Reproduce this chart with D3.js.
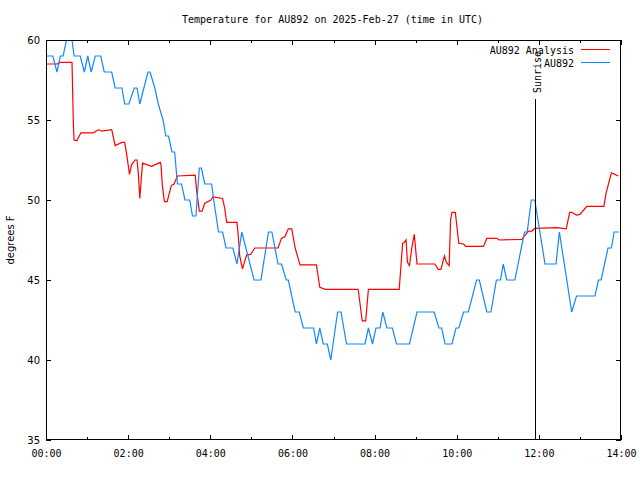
<!DOCTYPE html>
<html><head><meta charset="utf-8">
<script src="https://cdn.jsdelivr.net/npm/d3@7"></script>
<style>body{margin:0;background:#fff}</style>
</head><body>
<svg id="c" width="640" height="480"></svg>
<script>
const chartTitle = "Temperature for AU892 on 2025-Feb-27 (time in UTC)";
const yAxisLabel = "degrees F";
const seriesNames = ["AU892 Analysis", "AU892"];
const seriesColors = ["#ff0000", "#1188ff"];

const analysisTimes = ["00:00","00:16","00:21","00:38","00:40","00:41","00:45","00:51","01:09","01:17","01:21","01:36","01:38","01:41","01:51","01:55","01:58","02:02","02:05","02:10","02:13","02:15","02:17","02:21","02:34","02:47","02:48","02:50","02:53","02:57","03:03","03:07","03:12","03:38","03:40","03:44","03:48","03:52","04:01","04:04","04:18","04:21","04:24","04:39","04:41","04:43","04:47","04:53","04:59","05:05","05:39","05:44","05:49","05:54","05:59","06:04","06:11","06:35","06:40","06:48","07:36","07:42","07:47","07:51","08:36","08:41","08:43","08:46","08:48","08:51","08:54","08:58","09:02","09:28","09:33","09:37","09:42","09:45","09:49","09:51","09:53","09:58","10:03","10:10","10:13","10:39","10:44","10:59","11:02","11:35","11:40","11:45","11:50","11:54","12:26","12:40","12:45","12:48","12:55","13:00","13:10","13:35","13:38","13:46","13:51","13:56"];
const analysisValues = [58.5,58.5,58.6,58.6,54.7,53.75,53.7,54.2,54.2,54.4,54.3,54.4,54.0,53.4,53.6,53.6,52.8,51.6,52.2,52.5,52.5,51.6,50.1,52.3,52.1,52.35,52.2,50.9,49.9,49.9,50.9,51.0,51.5,51.56,50.6,49.3,49.3,49.8,50.0,50.2,50.1,49.5,48.6,48.6,47.7,46.5,45.7,46.56,46.6,47.0,47.0,47.6,47.7,48.2,48.2,47.0,45.94,45.94,44.54,44.42,44.42,42.44,42.44,44.42,44.42,47.3,47.33,47.5,46.1,45.9,46.9,47.85,46.0,46.0,45.67,45.67,46.5,46.1,45.9,48.75,49.23,49.23,47.3,47.25,47.1,47.1,47.6,47.6,47.5,47.54,47.8,48.06,48.06,48.23,48.27,48.2,49.23,49.23,49.06,49.1,49.6,49.6,50.4,51.7,51.6,51.5];

const obsTimes = ["00:00","00:10","00:16","00:21","00:25","00:30","00:38","00:41","00:50","00:56","01:01","01:06","01:12","01:20","01:25","01:36","01:41","01:51","01:55","02:01","02:09","02:13","02:17","02:29","02:32","02:39","02:44","02:51","02:55","02:59","03:04","03:08","03:10","03:12","03:18","03:23","03:30","03:34","03:39","03:44","03:47","03:52","04:02","04:05","04:12","04:18","04:23","04:33","04:39","04:46","05:04","05:14","05:25","05:30","05:39","05:44","05:51","05:54","06:04","06:10","06:16","06:31","06:35","06:40","06:45","06:51","06:56","07:06","07:11","07:19","07:46","07:51","07:57","08:02","08:08","08:12","08:18","08:26","08:32","08:51","09:02","09:27","09:34","09:38","09:43","09:53","09:59","10:03","10:10","10:17","10:29","10:33","10:44","10:50","10:58","11:04","11:08","11:13","11:25","11:39","11:43","11:49","11:54","12:09","12:25","12:30","12:48","12:55","13:22","13:27","13:31","13:41","13:46","13:50","13:57"];
const obsValues = [59,59,58,59,59,60,60,59,59,58,59,58,59,59,58,58,57,57,56,56,57,57,56,58,58,57,56,55,54,54,53,53,52,51,51,50,50,49,49,52,52,51,51,50,48,48,47,47,46,48,45,45,48,48,46,46,45,45,43,43,42,42,41,42,41,41,40,43,43,41,41,42,41,42,42,43,42,42,41,41,43,43,42,42,41,41,42,42,43,43,45,45,43,43,45,45,46,45,45,48,48,50,50,46,46,48,43,44,44,45,45,47,47,48,48];

const xTickLabels = ["00:00","02:00","04:00","06:00","08:00","10:00","12:00","14:00"];
const xMinorTickLabels = ["01:00","03:00","05:00","07:00","09:00","11:00","13:00"];
const yTickValues = [35,40,45,50,55,60];
const sunriseTime = "11:54";
const sunriseLabel = "Sunrise";

const toMin = s => { const [h,m] = s.split(":").map(Number); return h*60+m; };

const L = 46, R = 621, T = 40, B = 440;
const x = d3.scaleLinear().domain([toMin(xTickLabels[0]), toMin(xTickLabels[xTickLabels.length-1])]).range([L, R]);
const y = d3.scaleLinear().domain([yTickValues[0], yTickValues[yTickValues.length-1]]).range([B, T]);

const svg = d3.select("#c");
const mono = "'DejaVu Sans Mono', monospace";
const sans = "'DejaVu Sans', sans-serif";

svg.append("rect").attr("width",640).attr("height",480).attr("fill","#fff");

svg.append("defs").append("clipPath").attr("id","clip")
  .append("rect").attr("x",L).attr("y",T).attr("width",R-L).attr("height",B-T);

// title
svg.append("text").attr("x",(L+R)/2-1).attr("y",23).attr("text-anchor","middle")
  .attr("font-family",mono).attr("font-size",10).text(chartTitle);

// y axis label
svg.append("text").attr("transform","translate(14,240) rotate(-90)").attr("text-anchor","middle")
  .attr("font-family",sans).attr("font-size",10).text(yAxisLabel);

// axes
const xMajor = xTickLabels.map(toMin), xMinor = xMinorTickLabels.map(toMin);
const fmt = m => d3.format("02d")(Math.floor(m/60)) + ":" + d3.format("02d")(m%60);

const gb = svg.append("g").attr("transform",`translate(0,${B})`)
  .call(d3.axisBottom(x).tickValues(xMajor).tickFormat(fmt).tickSizeInner(-5).tickSizeOuter(0).tickPadding(10));
const gbm = svg.append("g").attr("transform",`translate(0,${B})`)
  .call(d3.axisBottom(x).tickValues(xMinor).tickFormat("").tickSizeInner(-3).tickSizeOuter(0));
const gt = svg.append("g").attr("transform",`translate(0,${T})`)
  .call(d3.axisTop(x).tickValues(xMajor).tickFormat("").tickSizeInner(-5).tickSizeOuter(0));
const gtm = svg.append("g").attr("transform",`translate(0,${T})`)
  .call(d3.axisTop(x).tickValues(xMinor).tickFormat("").tickSizeInner(-3).tickSizeOuter(0));
const gl = svg.append("g").attr("transform",`translate(${L},0)`)
  .call(d3.axisLeft(y).tickValues(yTickValues).tickFormat(d3.format("d")).tickSizeInner(-5).tickSizeOuter(0).tickPadding(6));
const gr = svg.append("g").attr("transform",`translate(${R},0)`)
  .call(d3.axisRight(y).tickValues(yTickValues).tickFormat("").tickSizeInner(-5).tickSizeOuter(0));

[gb,gbm,gt,gtm,gl,gr].forEach(g => {
  g.select(".domain").remove();
  g.selectAll("line").attr("stroke","#000").attr("shape-rendering","crispEdges");
});
gb.selectAll("text").attr("font-family",mono).attr("font-size",10).attr("fill","#000");
gl.selectAll("text").attr("font-family",sans).attr("font-size",10).attr("fill","#000");

// series
const line = d3.line().x(d => x(d[0])).y(d => y(d[1]));
const plot = svg.append("g").attr("clip-path","url(#clip)");
const series = [
  analysisTimes.map((t,i) => [toMin(t), analysisValues[i]]),
  obsTimes.map((t,i) => [toMin(t), obsValues[i]])
];
series.forEach((s,i) => {
  plot.append("path").datum(s).attr("d",line).attr("fill","none")
    .attr("stroke",seriesColors[i]).attr("stroke-width",1.2);
});

// sunrise
const sx = Math.round(x(toMin(sunriseTime)))+0.5;
svg.append("line").attr("x1",sx).attr("x2",sx).attr("y1",99).attr("y2",B)
  .attr("stroke","#000").attr("stroke-width",1);
svg.append("text").attr("transform",`translate(${sx+5},93) rotate(-90)`)
  .attr("font-family",mono).attr("font-size",10).text(sunriseLabel);

// legend
seriesNames.forEach((n,i) => {
  const ly = 49.5 + i*13;
  svg.append("text").attr("x",574).attr("y",ly+4).attr("text-anchor","end")
    .attr("font-family",mono).attr("font-size",10).text(n);
  svg.append("line").attr("x1",581).attr("x2",610).attr("y1",ly).attr("y2",ly)
    .attr("stroke",seriesColors[i]).attr("stroke-width",1);
});

// border
svg.append("rect").attr("x",L+0.5).attr("y",T+0.5).attr("width",R-L-1).attr("height",B-T-1)
  .attr("fill","none").attr("stroke","#000").attr("stroke-width",1);
</script>
</body></html>
